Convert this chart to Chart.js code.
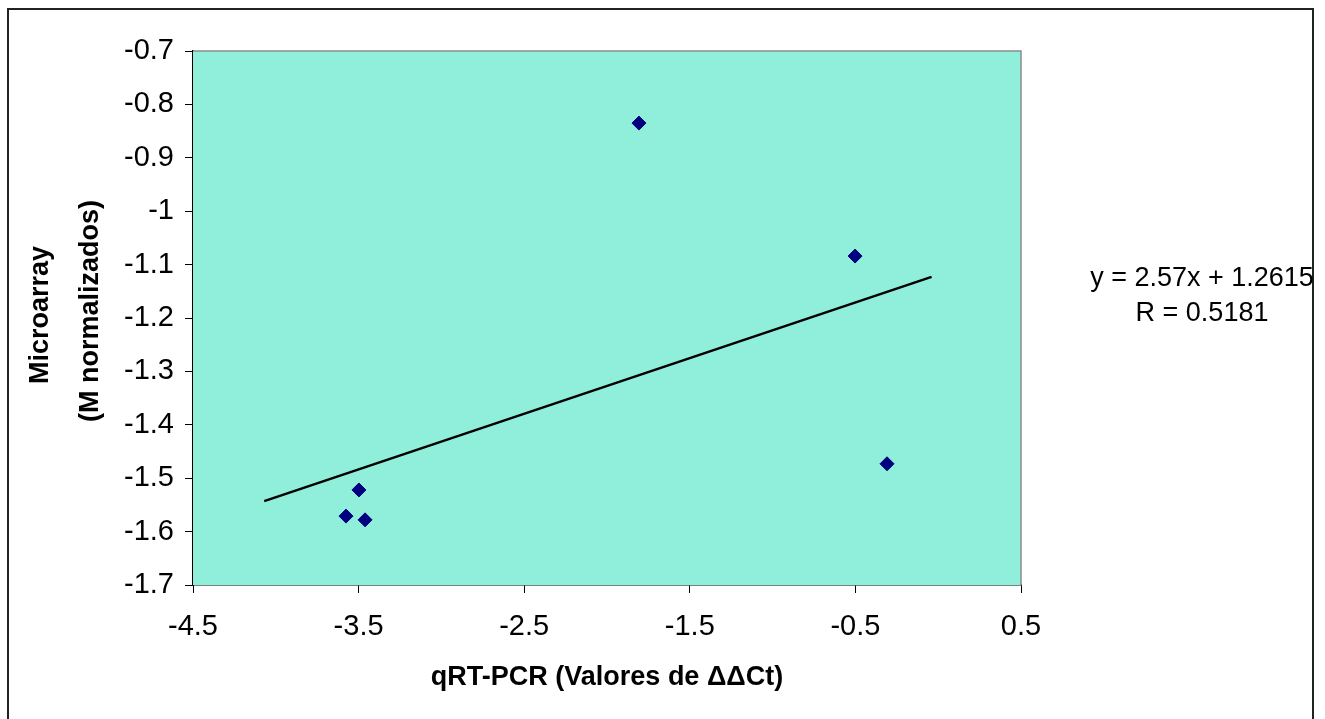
<!DOCTYPE html>
<html>
<head>
<meta charset="utf-8">
<script src="https://cdn.jsdelivr.net/npm/chart.js@4.4.0/dist/chart.umd.min.js"></script>
<style>
    html, body { margin: 0; padding: 0; background: #fff; }
    #wrap { width: 1325px; height: 719px; }
</style>
</head>
<body>
<div id="wrap"><canvas id="scatter_chart" width="1325" height="719"></canvas></div>
<script>
// qRT-PCR (ddCt) vs microarray (M normalized)
const qpcrValues = [-1.807, -0.502, -0.309, -3.498, -3.576, -3.461];
const microarrayValues = [-0.835, -1.084, -1.473, -1.522, -1.571, -1.578];
const trendX = [-4.07, -0.04];
const trendY = [-1.543, -1.123];
const xTicks = [-4.5, -3.5, -2.5, -1.5, -0.5, 0.5];
const yTicks = [-0.7, -0.8, -0.9, -1, -1.1, -1.2, -1.3, -1.4, -1.5, -1.6, -1.7];
const equationLines = ["y = 2.57x + 1.2615", "R = 0.5181"];

const FONT = "'Liberation Sans', Arial, sans-serif";

let points = qpcrValues.map(function (x, i) { return {x: x, y: microarrayValues[i]}; });
let trend = trendX.map(function (x, i) { return {x: x, y: trendY[i]}; });

const decorations = {
    id: "decorations",
    beforeDatasetsDraw: function (chart) {
        let ctx = chart.ctx, a = chart.chartArea;
        ctx.save();
        ctx.fillStyle = "#90EFDB";
        ctx.fillRect(a.left, a.top, a.right - a.left, a.bottom - a.top);
        // top and right edges of plot area
        ctx.strokeStyle = "#8c8c8c";
        ctx.lineWidth = 1.5;
        ctx.beginPath();
        ctx.moveTo(a.left, a.top);
        ctx.lineTo(a.right, a.top);
        ctx.lineTo(a.right, a.bottom);
        ctx.stroke();
        ctx.restore();
    },
    afterDraw: function (chart) {
        let ctx = chart.ctx;
        ctx.save();
        // outer frame
        ctx.strokeStyle = "#222";
        ctx.lineWidth = 2;
        ctx.strokeRect(8, 9, 1305, 712);

        ctx.fillStyle = "#000";
        ctx.textAlign = "center";
        ctx.textBaseline = "middle";

        // x axis title
        ctx.font = "bold 27px " + FONT;
        ctx.fillText("qRT-PCR (Valores de \u0394\u0394Ct)", 607, 678);

        // y axis title, two lines
        ctx.save();
        ctx.translate(41, 315);
        ctx.rotate(-Math.PI / 2);
        ctx.fillText("Microarray", 0, 0);
        ctx.restore();
        ctx.save();
        ctx.translate(91, 311);
        ctx.rotate(-Math.PI / 2);
        ctx.fillText("(M normalizados)", 0, 0);
        ctx.restore();

        // regression label
        ctx.font = "27px " + FONT;
        ctx.fillText(equationLines[0], 1202, 279);
        ctx.fillText(equationLines[1], 1202, 314);
        ctx.restore();
    }
};

let chart = new Chart(document.getElementById("scatter_chart").getContext("2d"), {
    type: "scatter",
    data: {
        datasets: [{
            data: points,
            pointStyle: "rectRot",
            pointRadius: 7,
            backgroundColor: "#000080",
            borderColor: "#000080",
            borderWidth: 1,
            order: 1
        }, {
            type: "line",
            data: trend,
            borderColor: "#000",
            borderWidth: 2.5,
            pointRadius: 0,
            fill: false,
            order: 2
        }]
    },
    options: {
        responsive: false,
        animation: false,
        layout: {padding: {left: 0, right: 304, top: 51, bottom: 0}},
        plugins: {legend: {display: false}, tooltip: {enabled: false}},
        scales: {
            x: {
                type: "linear",
                min: -4.5,
                max: 0.5,
                afterBuildTicks: function (scale) {
                    scale.ticks = xTicks.map(function (v) { return {value: v}; });
                },
                afterFit: function (scale) { scale.height = 134; },
                grid: {drawOnChartArea: false, drawTicks: true, tickLength: 8, color: "#000"},
                border: {color: "#000", width: 1.5},
                ticks: {
                    color: "#000",
                    padding: 17,
                    maxRotation: 0,
                    font: {family: FONT, size: 29},
                    callback: function (v) { return String(v); }
                }
            },
            y: {
                type: "linear",
                min: -1.7,
                max: -0.7,
                afterBuildTicks: function (scale) {
                    scale.ticks = yTicks.map(function (v) { return {value: v}; });
                },
                afterFit: function (scale) { scale.width = 193; },
                grid: {drawOnChartArea: false, drawTicks: true, tickLength: 8, color: "#000"},
                border: {color: "#000", width: 1.5},
                ticks: {
                    color: "#000",
                    padding: 11,
                    font: {family: FONT, size: 29},
                    callback: function (v) { return String(v); }
                }
            }
        }
    },
    plugins: [decorations]
});
</script>
</body>
</html>
